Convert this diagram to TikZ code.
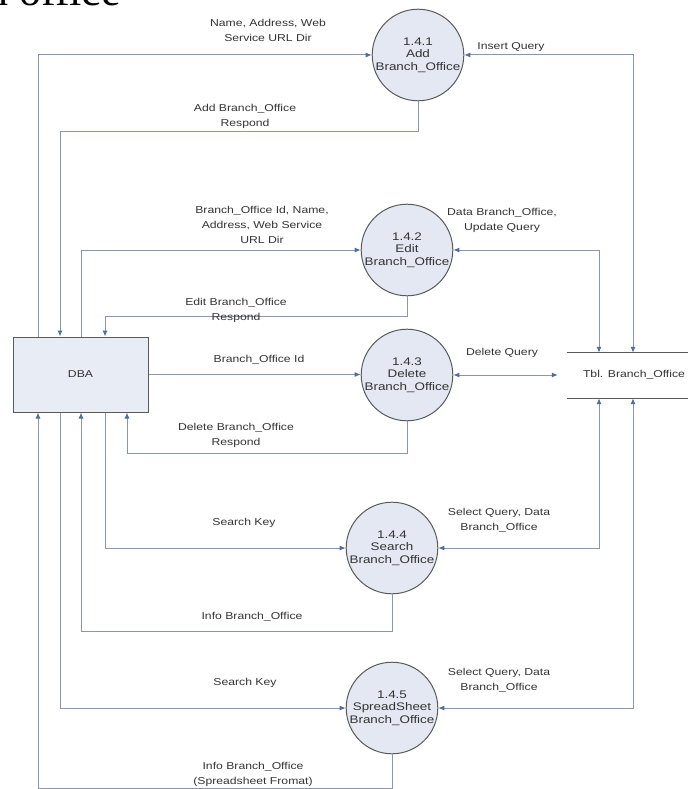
\documentclass[tikz,border=0pt]{standalone}
\usepackage{fontspec}
\setmainfont[FakeStretch=1.22]{Liberation Sans}
\newfontfamily\headfont{Liberation Serif}
\usetikzlibrary{arrows.meta}

\definecolor{flow}{HTML}{8A97AB}
\definecolor{tip}{HTML}{4F6E9C}
\definecolor{procfill}{HTML}{E3E8F2}
\definecolor{boxfill}{HTML}{E8ECF5}
\definecolor{edgegray}{HTML}{5A5A5A}
\definecolor{ink}{HTML}{333333}

\begin{document}
\begin{tikzpicture}[x=1pt,y=-1pt,
  proc/.style={circle, draw=edgegray, fill=procfill, line width=1pt,
    minimum size=90pt, inner sep=0pt, align=center,
    font=\fontsize{11}{12.5}\selectfont, text=ink},
  entity/.style={rectangle, draw=edgegray, fill=boxfill, line width=1pt,
    minimum width=135pt, minimum height=75pt, inner sep=0pt,
    font=\fontsize{10}{12}\selectfont, text=ink},
  flowline/.style={draw=flow, line width=1pt,
    -{Latex[length=6pt,width=5pt,color=tip]}},
  twoway/.style={draw=flow, line width=1pt,
    {Latex[length=6pt,width=5pt,color=tip]}-{Latex[length=6pt,width=5pt,color=tip]}},
  lbl/.style={font=\fontsize{10}{15}\selectfont, text=ink, align=center, inner sep=0pt},
  storeline/.style={draw=edgegray, line width=1.3pt},
]
\useasboundingbox (0,0) rectangle (688,789);

% heading running off the top edge
\node[font=\headfont\fontsize{44}{44}\selectfont, anchor=base west, inner sep=0pt, text=black]
  (head) at (-14,6) {n office};

% external entity and processes
\node[entity] (dba) at (80.5,374.5) {DBA};
\node[proc] (p1) at (418,55)  {1.4.1\\Add\\Branch\_Office};
\node[proc] (p2) at (407,250) {1.4.2\\Edit\\Branch\_Office};
\node[proc] (p3) at (407,375) {1.4.3\\Delete\\Branch\_Office};
\node[proc] (p4) at (392,548) {1.4.4\\Search\\Branch\_Office};
\node[proc] (p5) at (392,708) {1.4.5\\SpreadSheet\\Branch\_Office};

% data store
\node[minimum width=121pt, minimum height=45pt, inner sep=0pt] (store) at (627.5,375.5) {};
\draw[storeline] (store.north west) -- (store.north east);
\draw[storeline] (store.south west) -- (store.south east);
\node[lbl] (stxt) at (634,375) {Tbl. Branch\_Office};

% routing columns
\coordinate (xa) at (38,0);
\coordinate (xb) at (60,0);
\coordinate (xc) at (81,0);
\coordinate (xd) at (105,0);
\coordinate (xe) at (127,0);
\coordinate (xs1) at (599,0);
\coordinate (xs2) at (633,0);

% flows between DBA and the processes
\draw[flowline] (dba.north -| xa) |- (p1.west);
\draw[flowline] (p1.south) -- ++(0,30) -| (dba.north -| xb);
\draw[flowline] (dba.north -| xc) |- (p2.west);
\draw[flowline] (p2.south) -- ++(0,20) -| (dba.north -| xd);
\draw[flowline] (dba.east) -- (dba.east -| p3.west);
\draw[flowline] (p3.south) -- ++(0,32) -| (dba.south -| xe);
\draw[flowline] (dba.south -| xd) |- (p4.west);
\draw[flowline] (p4.south) -- ++(0,37) -| (dba.south -| xc);
\draw[flowline] (dba.south -| xb) |- (p5.west);
\draw[flowline] (p5.south) -- ++(0,34) -| (dba.south -| xa);

% flows between the processes and the store
\draw[twoway] (p1.east) -| (store.north -| xs2);
\draw[twoway] (p2.east) -| (store.north -| xs1);
\draw[twoway, shorten >=9pt] (p3.east) -- (store.west |- p3.east);
\draw[twoway] (p4.east) -| (store.south -| xs1);
\draw[twoway] (p5.east) -| (store.south -| xs2);

% flow labels
\node[lbl] (l1)  at (268,30.5) {Name, Address, Web\\Service URL Dir};
\node[lbl] (l2)  at (245,116)  {Add Branch\_Office\\Respond};
\node[lbl] (l3)  at (262,225)  {Branch\_Office Id, Name,\\Address, Web Service\\URL Dir};
\node[lbl] (l4)  at (236,310)  {Edit Branch\_Office\\Respond};
\node[lbl] (l5)  at (259,360)  {Branch\_Office Id};
\node[lbl] (l6)  at (236,435)  {Delete Branch\_Office\\Respond};
\node[lbl] (l7)  at (244,523)  {Search Key};
\node[lbl] (l8)  at (252,617)  {Info Branch\_Office};
\node[lbl] (l9)  at (245,683)  {Search Key};
\node[lbl] (l10) at (253,774)  {Info Branch\_Office\\(Spreadsheet Fromat)};
\node[lbl] (l11) at (511,47)   {Insert Query};
\node[lbl] (l12) at (502,220)  {Data Branch\_Office,\\Update Query};
\node[lbl] (l13) at (502,353)  {Delete Query};
\node[lbl] (l14) at (499,520)  {Select Query, Data\\Branch\_Office};
\node[lbl] (l15) at (499,680)  {Select Query, Data\\Branch\_Office};
\end{tikzpicture}
\end{document}
